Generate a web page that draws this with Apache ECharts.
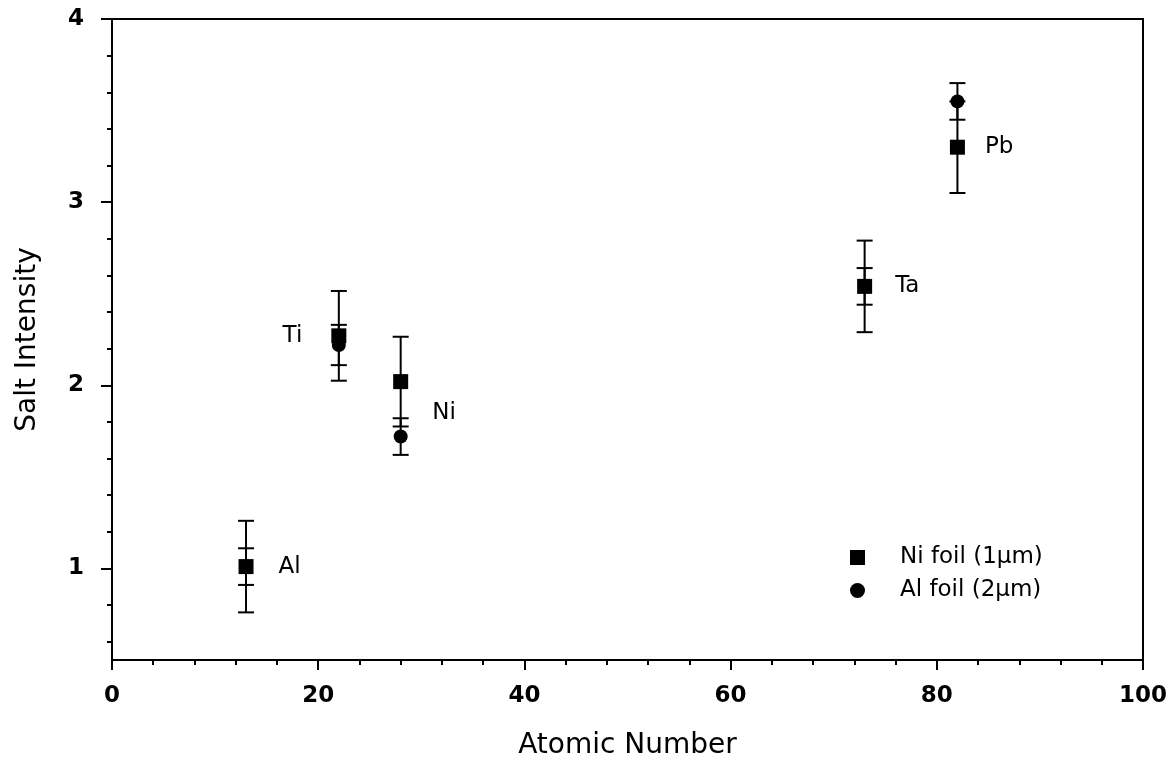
<!DOCTYPE html>
<html><head><meta charset="utf-8">
<script src="https://cdn.jsdelivr.net/npm/echarts@6/dist/echarts.min.js"></script>
<style>html,body{margin:0;padding:0;background:#fff}#c{width:1175px;height:767px}</style>
</head><body><div id="c"></div>
<script>
// ---- data ----
const elements = ['Al', 'Ti', 'Ni', 'Ta', 'Pb'];
const atomicNumber = [13, 22, 28, 73, 82];
const niFoil = [1.01, 2.27, 2.02, 2.54, 3.30];
const niFoilErr = [0.25, 0.245, 0.245, 0.25, 0.25];
const alFoil = [1.01, 2.22, 1.72, 2.54, 3.55];
const alFoilErr = [0.10, 0.11, 0.10, 0.10, 0.10];
const seriesNames = ['Ni foil (1\u03bcm)', 'Al foil (2\u03bcm)'];
const yTickValues = [1, 2, 3, 4];
const xTickValues = [0, 20, 40, 60, 80, 100];

// ---- styles ----
const FONT = 'DejaVu Sans';
const labelPlacement = {
  Al: { position: 'right', distance: 25 },
  Ti: { position: 'left', distance: 29 },
  Ni: { position: 'right', distance: 24, offset: [0, 31] },
  Ta: { position: 'right', distance: 23 },
  Pb: { position: 'right', distance: 20 }
};

function errorBarSeries(name, ys, errs) {
  return {
    type: 'custom', name: name + ' error', silent: true, z: 2,
    data: atomicNumber.map((x, i) => [x, ys[i] - errs[i], ys[i] + errs[i]]),
    encode: { x: 0, y: [1, 2] },
    renderItem: function (params, api) {
      const x = api.value(0);
      const lo = api.coord([x, api.value(1)]);
      const hi = api.coord([x, api.value(2)]);
      const hw = 8;
      const style = { stroke: '#000', lineWidth: 2 };
      return {
        type: 'group', children: [
          { type: 'line', shape: { x1: lo[0], y1: lo[1], x2: hi[0], y2: hi[1] }, style: style },
          { type: 'line', shape: { x1: lo[0] - hw, y1: lo[1], x2: lo[0] + hw, y2: lo[1] }, style: style },
          { type: 'line', shape: { x1: hi[0] - hw, y1: hi[1], x2: hi[0] + hw, y2: hi[1] }, style: style }
        ]
      };
    }
  };
}

const chart = echarts.init(document.getElementById('c'), null, { renderer: 'canvas' });
const axisText = { fontFamily: FONT, fontWeight: 'bold', fontSize: 23, color: '#000' };
const nameText = { fontFamily: FONT, fontSize: 28, color: '#000' };

chart.setOption({
  animation: false,
  backgroundColor: '#fff',
  grid: { left: 112, right: 32, top: 19, bottom: 107, show: true, borderColor: '#000', borderWidth: 2, outerBoundsMode: 'none', containLabel: false },
  legend: {
    orient: 'vertical', left: 845, top: 541, itemWidth: 15, itemHeight: 15, itemGap: 10,
    data: [{ name: seriesNames[0], icon: 'rect' }, { name: seriesNames[1], icon: 'circle' }],
    textStyle: { fontFamily: FONT, fontSize: 23, color: '#000', padding: [0, 0, 0, 30] },
    itemStyle: { color: '#000', opacity: 1 },
    selectedMode: false
  },
  xAxis: {
    type: 'value', min: 0, max: 100, interval: 20,
    name: 'Atomic Number', nameLocation: 'middle', nameGap: 72, nameTextStyle: nameText,
    axisLine: { show: true, onZero: false, lineStyle: { color: '#000', width: 2 } },
    axisTick: { show: true, inside: false, length: 10, lineStyle: { color: '#000', width: 2 } },
    minorTick: { show: true, splitNumber: 5, length: 5, lineStyle: { color: '#000', width: 2 } },
    splitLine: { show: false },
    axisLabel: Object.assign({ margin: 25 }, axisText)
  },
  yAxis: {
    type: 'value', min: 0.5, max: 4, splitNumber: 4, minInterval: 1, maxInterval: 1,
    name: 'Salt Intensity', nameLocation: 'middle', nameGap: 70, nameTextStyle: nameText,
    axisLine: { show: true, onZero: false, lineStyle: { color: '#000', width: 2 } },
    axisTick: { show: true, inside: false, length: 11, customValues: yTickValues, lineStyle: { color: '#000', width: 2 } },
    minorTick: { show: true, splitNumber: 5, length: 5, lineStyle: { color: '#000', width: 2 } },
    splitLine: { show: false },
    axisLabel: Object.assign({ margin: 28, customValues: yTickValues }, axisText)
  },
  series: [
    errorBarSeries(seriesNames[1], alFoil, alFoilErr),
    errorBarSeries(seriesNames[0], niFoil, niFoilErr),
    {
      type: 'scatter', name: seriesNames[1], symbol: 'circle', symbolSize: 14, z: 3,
      itemStyle: { color: '#000', opacity: 1 },
      data: atomicNumber.map((x, i) => [x, alFoil[i]])
    },
    {
      type: 'scatter', name: seriesNames[0], symbol: 'rect', symbolSize: 15, z: 4,
      itemStyle: { color: '#000', opacity: 1 },
      data: atomicNumber.map((x, i) => ({
        value: [x, niFoil[i]],
        label: Object.assign({ show: true, formatter: elements[i], fontFamily: FONT, fontSize: 23, color: '#000', opacity: 1 }, labelPlacement[elements[i]])
      }))
    }
  ]
});
</script>
</body></html>
